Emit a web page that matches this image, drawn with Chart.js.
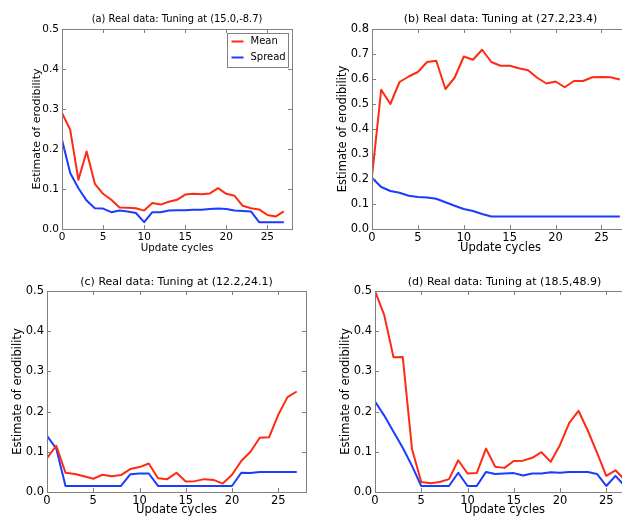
<!DOCTYPE html>
<html>
<head>
<meta charset="utf-8">
<script src="https://cdn.jsdelivr.net/npm/chart.js@4"></script>
<style>
html, body { margin: 0; padding: 0; background: #fff; overflow: hidden; width: 622px; height: 517px; }
canvas { position: absolute; }
</style>
</head>
<body>
<canvas id="pa"></canvas>
<canvas id="pb"></canvas>
<canvas id="pc"></canvas>
<canvas id="pd"></canvas>
<script>
// update cycles 0..27
var cycles = [0,1,2,3,4,5,6,7,8,9,10,11,12,13,14,15,16,17,18,19,20,21,22,23,24,25,26,27];

// (a) tuning at (15.0,-8.7)
var meanA   = [0.290,0.248,0.123,0.194,0.113,0.088,0.073,0.054,0.053,0.052,0.046,0.065,0.061,0.068,0.073,0.086,0.088,0.087,0.089,0.102,0.088,0.083,0.058,0.052,0.049,0.035,0.031,0.044];
var spreadA = [0.223,0.140,0.102,0.071,0.052,0.051,0.042,0.046,0.044,0.040,0.017,0.042,0.042,0.046,0.047,0.047,0.048,0.048,0.050,0.051,0.050,0.046,0.045,0.044,0.017,0.017,0.017,0.017];

// (b) tuning at (27.2,23.4)
var meanB   = [0.210,0.557,0.500,0.588,0.610,0.628,0.668,0.673,0.560,0.605,0.690,0.677,0.717,0.668,0.653,0.653,0.643,0.635,0.605,0.582,0.590,0.567,0.592,0.592,0.607,0.608,0.607,0.598];
var spreadB = [0.205,0.168,0.152,0.145,0.133,0.128,0.126,0.121,0.107,0.093,0.080,0.072,0.060,0.050,0.050,0.050,0.050,0.050,0.050,0.050,0.050,0.050,0.050,0.050,0.050,0.050,0.050,0.050];

// (c) tuning at (12.2,24.1)
var meanC   = [0.084,0.115,0.048,0.045,0.039,0.033,0.043,0.039,0.042,0.057,0.062,0.071,0.034,0.032,0.048,0.026,0.027,0.032,0.030,0.021,0.043,0.077,0.100,0.135,0.136,0.192,0.236,0.250];
var spreadC = [0.140,0.108,0.015,0.015,0.015,0.015,0.015,0.015,0.015,0.044,0.046,0.046,0.015,0.015,0.015,0.015,0.015,0.015,0.015,0.015,0.015,0.048,0.047,0.050,0.050,0.050,0.050,0.050];

// (d) tuning at (18.5,48.9)
var meanD   = [0.500,0.440,0.335,0.336,0.107,0.025,0.022,0.025,0.032,0.079,0.046,0.047,0.108,0.063,0.060,0.077,0.078,0.085,0.099,0.075,0.117,0.172,0.202,0.153,0.098,0.040,0.054,0.030];
var spreadD = [0.225,0.190,0.150,0.110,0.065,0.015,0.015,0.015,0.015,0.048,0.015,0.015,0.050,0.045,0.046,0.047,0.041,0.046,0.046,0.049,0.048,0.050,0.050,0.050,0.045,0.015,0.040,0.015];

var RED = '#ff2a12';
var BLUE = '#1a3cff';
var FRAME = '#808080';

Chart.defaults.font.family = '"DejaVu Sans", sans-serif';
Chart.defaults.color = '#000';

// matplotlib style box with inward ticks on all four sides
var framePlugin = {
    id: 'frame',
    afterDraw: function(chart) {
        var ctx = chart.ctx, a = chart.chartArea;
        var xs = chart.scales.x, ys = chart.scales.y;
        ctx.save();
        ctx.strokeStyle = FRAME;
        ctx.lineWidth = 1;
        ctx.beginPath();
        xs.ticks.forEach(function(t) {
            var px = Math.round(xs.getPixelForValue(t.value)) + 0.5;
            ctx.moveTo(px, a.bottom); ctx.lineTo(px, a.bottom - 4);
            ctx.moveTo(px, a.top); ctx.lineTo(px, a.top + 4);
        });
        ys.ticks.forEach(function(t) {
            var py = Math.round(ys.getPixelForValue(t.value)) + 0.5;
            ctx.moveTo(a.left, py); ctx.lineTo(a.left + 4, py);
            ctx.moveTo(a.right, py); ctx.lineTo(a.right - 4, py);
        });
        ctx.stroke();
        ctx.strokeRect(Math.round(a.left) + 0.5, Math.round(a.top) + 0.5,
                       Math.round(a.right - a.left), Math.round(a.bottom - a.top));
        ctx.restore();
    }
};

// legend box in the upper right corner of the plot
var legendPlugin = {
    id: 'boxLegend',
    afterDraw: function(chart) {
        var ctx = chart.ctx, a = chart.chartArea;
        var ds = chart.data.datasets;
        var fs = 10;
        ctx.save();
        ctx.font = fs + 'px "DejaVu Sans"';
        var tw = 0;
        ds.forEach(function(d) { tw = Math.max(tw, ctx.measureText(d.label).width); });
        var w = 4 + 12 + 7 + tw + 3;
        var h = 8 + 16 * (ds.length - 1) + 10;
        var x0 = Math.round(a.right - 4 - w) + 0.5;
        var y0 = Math.round(a.top + 4) + 0.5;
        ctx.fillStyle = '#fff';
        ctx.fillRect(x0, y0, w, h);
        ctx.strokeStyle = FRAME;
        ctx.lineWidth = 1;
        ctx.strokeRect(x0, y0, Math.round(w), h);
        ds.forEach(function(d, i) {
            var cy = y0 + 8 + 16 * i;
            ctx.strokeStyle = d.borderColor;
            ctx.lineWidth = 2;
            ctx.beginPath();
            ctx.moveTo(x0 + 4, cy); ctx.lineTo(x0 + 16, cy);
            ctx.stroke();
            ctx.fillStyle = '#000';
            ctx.textBaseline = 'middle';
            ctx.fillText(d.label, x0 + 23, cy);
        });
        ctx.restore();
    }
};

function makeChart(id, p) {
    var cv = document.getElementById(id);
    cv.width = p.cw; cv.height = p.ch;
    cv.style.left = p.cx + 'px'; cv.style.top = p.cy + 'px';
    var lhT = p.tf * 1.2, lhX = p.xf * 1.2, lhY = p.yf * 1.2;
    var titleH = p.T - p.cy;
    var xH = p.cy + p.ch - p.B;
    var yW = p.L - p.cx;
    return new Chart(cv.getContext('2d'), {
        type: 'line',
        data: {
            labels: cycles,
            datasets: [
                { label: 'Mean', data: p.mean, borderColor: RED, borderWidth: 2, pointRadius: 0, fill: false, tension: 0, borderJoinStyle: 'round' },
                { label: 'Spread', data: p.spread, borderColor: BLUE, borderWidth: 2, pointRadius: 0, fill: false, tension: 0, borderJoinStyle: 'round' }
            ]
        },
        options: {
            responsive: false,
            animation: false,
            events: [],
            layout: { padding: { left: 0, top: 0, bottom: 0, right: p.cx + p.cw - p.R } },
            plugins: {
                legend: { display: false },
                tooltip: { enabled: false },
                title: {
                    display: true,
                    text: p.title,
                    fullSize: false,
                    color: '#000',
                    font: { size: p.tf, weight: 'normal' },
                    padding: { top: p.tTop - lhT / 2, bottom: titleH - (p.tTop - lhT / 2) - lhT }
                }
            },
            scales: {
                x: {
                    type: 'linear',
                    min: 0,
                    max: 28,
                    grid: { display: false, drawTicks: false },
                    border: { display: false },
                    ticks: { stepSize: 5, includeBounds: false, maxRotation: 0, padding: 2, font: { size: p.kf } },
                    title: { display: true, text: 'Update cycles', font: { size: p.xf },
                             padding: { top: 0, bottom: xH - p.xOff - lhX / 2 } },
                    afterFit: function(s) { s.height = xH; }
                },
                y: {
                    min: 0,
                    max: p.ymax,
                    grid: { display: false, drawTicks: false },
                    border: { display: false },
                    ticks: { stepSize: 0.1, includeBounds: false, padding: 3, font: { size: p.kf },
                             callback: function(v) { return v.toFixed(1); } },
                    title: { display: true, text: 'Estimate of erodibility', font: { size: p.yf },
                             padding: { top: p.yOff - lhY / 2, bottom: 0 } },
                    afterFit: function(s) { s.width = yW; }
                }
            }
        },
        plugins: p.legend ? [framePlugin, legendPlugin] : [framePlugin]
    });
}

makeChart('pa', { cx: 0, cy: 0, cw: 300, ch: 257, L: 62, T: 29, R: 292, B: 229,
    tf: 9.9, xf: 10.3, yf: 11, kf: 10.5, tTop: 19, yOff: 37, xOff: 19, ymax: 0.5,
    title: '(a) Real data: Tuning at (15.0,-8.7)', mean: meanA, spread: spreadA, legend: true });

makeChart('pb', { cx: 311, cy: 0, cw: 329, ch: 257, L: 372, T: 29, R: 629, B: 229,
    tf: 11, xf: 11.5, yf: 11.5, kf: 11.5, tTop: 19, yOff: 32, xOff: 19, ymax: 0.8,
    title: '(b) Real data: Tuning at (27.2,23.4)', mean: meanB, spread: spreadB });

makeChart('pc', { cx: 0, cy: 260, cw: 311, ch: 257, L: 47, T: 291, R: 306, B: 492,
    tf: 11, xf: 11.5, yf: 11.5, kf: 11.5, tTop: 22, yOff: 18, xOff: 18, ymax: 0.5,
    title: '(c) Real data: Tuning at (12.2,24.1)', mean: meanC, spread: spreadC });

makeChart('pd', { cx: 311, cy: 260, cw: 335, ch: 257, L: 375, T: 291, R: 634, B: 492,
    tf: 11, xf: 11.5, yf: 11.5, kf: 11.5, tTop: 22, yOff: 35, xOff: 18, ymax: 0.5,
    title: '(d) Real data: Tuning at (18.5,48.9)', mean: meanD, spread: spreadD });
</script>
</body>
</html>
